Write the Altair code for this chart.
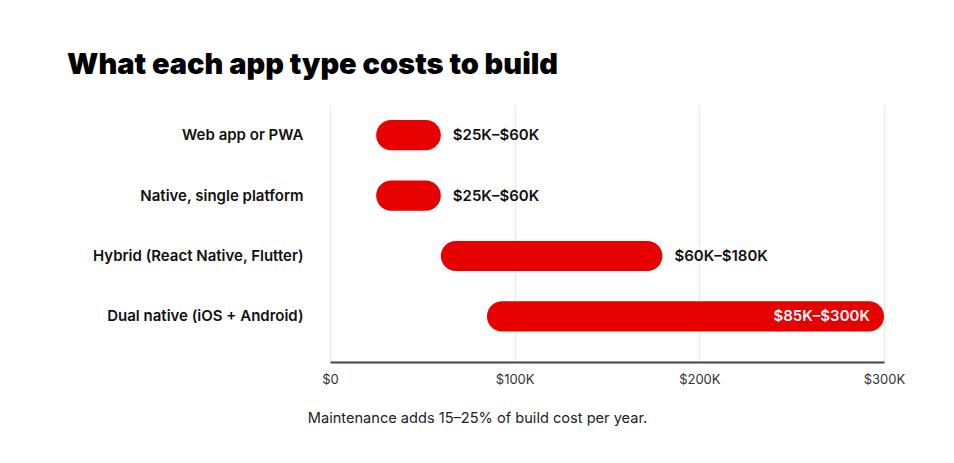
import altair as alt
import pandas as pd

# build cost ranges in $K
app_types = [
    "Web app or PWA",
    "Native, single platform",
    "Hybrid (React Native, Flutter)",
    "Dual native (iOS + Android)",
]
cost_low = [25, 25, 60, 85]
cost_high = [60, 60, 180, 300]
cost_labels = ["$25K–$60K", "$25K–$60K", "$60K–$180K", "$85K–$300K"]
label_inside = [False, False, False, True]
x_ticks = [0, 100, 200, 300]

df = pd.DataFrame({
    "app": app_types,
    "low": cost_low,
    "high": cost_high,
    "label": cost_labels,
    "inside": label_inside,
})

FONT = "Inter"
RED = "#e60000"

base = alt.Chart(df).encode(
    y=alt.Y("app:N", sort=app_types, title=None,
            scale=alt.Scale(paddingInner=0.5, paddingOuter=0.376, align=0.33),
            axis=alt.Axis(domain=False, ticks=False, grid=False, labelPadding=27,
                          labelFont=FONT, labelFontSize=15, labelFontWeight=600,
                          labelColor="#111111", labelLimit=400))
)

bars = base.mark_bar(color=RED, cornerRadius=15).encode(
    x=alt.X("low:Q", title="Maintenance adds 15–25% of build cost per year.",
            scale=alt.Scale(domain=[0, 300], nice=False, zero=True),
            axis=alt.Axis(values=x_ticks,
                          labelExpr="datum.value == 0 ? '$0' : '$' + datum.value + 'K'",
                          domainColor="#444444", domainWidth=2, ticks=False,
                          grid=True, gridColor="#ebebeb", gridWidth=1.5,
                          labelFont=FONT, labelFontSize=13, labelColor="#333333",
                          labelPadding=11, labelFlush=False,
                          titleFont=FONT, titleFontSize=14.6, titleFontWeight="normal",
                          titleColor="#222222", titleX=147, titleY=56,
                          titleAlign="center", titleBaseline="middle")),
    x2="high:Q",
)

outside = base.mark_text(align="left", baseline="middle", dx=12, font=FONT,
                         fontSize=15, fontWeight=600, color="#111111").encode(
    x="high:Q", text="label:N"
).transform_filter("!datum.inside")

inside = base.mark_text(align="right", baseline="middle", dx=-14, font=FONT,
                        fontSize=15, fontWeight=600, color="white").encode(
    x="high:Q", text="label:N"
).transform_filter("datum.inside")

chart = alt.layer(bars, outside, inside).properties(
    width=554,
    height=257,
    title=alt.TitleParams("What each app type costs to build", anchor="start",
                          frame="group", align="left",
                          font=FONT, fontSize=29, fontWeight=900, color="#000000",
                          baseline="alphabetic", offset=2, dx=-263),
    autosize=alt.AutoSizeParams(type="none"),
    padding={"left": 322, "top": 97, "right": 62, "bottom": 93},
).configure_view(stroke=None)

chart.save("out.html", embed_options={"renderer": "svg", "actions": False})
